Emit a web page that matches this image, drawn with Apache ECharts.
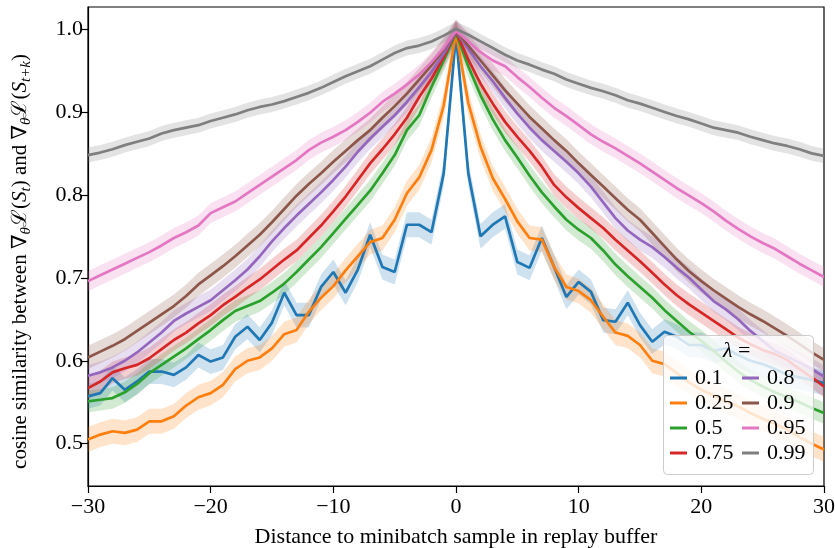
<!DOCTYPE html>
<html><head><meta charset="utf-8">
<script src="https://cdn.jsdelivr.net/npm/echarts@6/dist/echarts.min.js"></script>
<style>html,body{margin:0;padding:0;background:#fff}#c{width:835px;height:548px}</style>
</head><body><div id="c"></div>
<script>
// ---- data ----
const distances = [-30,-29,-28,-27,-26,-25,-24,-23,-22,-21,-20,-19,-18,-17,-16,-15,-14,-13,-12,-11,-10,-9,-8,-7,-6,-5,-4,-3,-2,-1,0,1,2,3,4,5,6,7,8,9,10,11,12,13,14,15,16,17,18,19,20,21,22,23,24,25,26,27,28,29,30];
const lambdaNames = ['0.1','0.25','0.5','0.75','0.8','0.9','0.95','0.99'];

const sim_0_1 = [0.557,0.561,0.579,0.565,0.575,0.587,0.587,0.583,0.592,0.607,0.599,0.604,0.629,0.641,0.625,0.646,0.682,0.655,0.655,0.689,0.707,0.682,0.710,0.752,0.713,0.707,0.764,0.764,0.755,0.826,
  0.993,
  0.826,0.750,0.764,0.774,0.719,0.712,0.748,0.713,0.677,0.695,0.683,0.649,0.647,0.670,0.643,0.623,0.635,0.629,0.619,0.619,0.612,0.615,0.607,0.600,0.596,0.590,0.583,0.580,0.577,0.573];
const sim_0_25 = [0.505,0.511,0.515,0.513,0.517,0.527,0.527,0.533,0.546,0.556,0.561,0.571,0.590,0.600,0.604,0.615,0.632,0.637,0.659,0.676,0.690,0.709,0.726,0.743,0.748,0.770,0.802,0.821,0.854,0.908,
  0.995,
  0.911,0.858,0.820,0.795,0.768,0.748,0.746,0.713,0.689,0.684,0.673,0.653,0.634,0.630,0.619,0.600,0.596,0.585,0.574,0.565,0.558,0.551,0.545,0.537,0.530,0.524,0.517,0.508,0.500,0.493];
const sim_0_5 = [0.551,0.553,0.555,0.562,0.572,0.585,0.595,0.605,0.615,0.626,0.637,0.649,0.660,0.666,0.672,0.682,0.693,0.707,0.722,0.737,0.754,0.771,0.788,0.805,0.826,0.848,0.878,0.896,0.930,0.962,
  0.995,
  0.955,0.920,0.891,0.866,0.845,0.823,0.803,0.786,0.770,0.758,0.748,0.733,0.716,0.702,0.689,0.676,0.661,0.648,0.635,0.624,0.612,0.599,0.587,0.577,0.569,0.562,0.556,0.550,0.543,0.537];
const sim_0_75 = [0.567,0.575,0.586,0.591,0.595,0.603,0.614,0.625,0.634,0.645,0.655,0.667,0.677,0.688,0.698,0.710,0.722,0.733,0.748,0.763,0.780,0.798,0.818,0.838,0.855,0.873,0.893,0.918,0.940,0.966,
  0.997,
  0.963,0.934,0.910,0.888,0.870,0.853,0.834,0.812,0.797,0.784,0.772,0.760,0.746,0.733,0.720,0.706,0.692,0.679,0.668,0.658,0.648,0.638,0.628,0.620,0.613,0.608,0.601,0.590,0.580,0.569];
const sim_0_8 = [0.582,0.586,0.592,0.600,0.610,0.622,0.634,0.648,0.657,0.665,0.673,0.685,0.697,0.710,0.726,0.744,0.760,0.775,0.789,0.803,0.818,0.834,0.852,0.868,0.882,0.896,0.912,0.930,0.948,0.970,
  0.997,
  0.976,0.955,0.937,0.917,0.898,0.881,0.866,0.853,0.840,0.826,0.810,0.791,0.772,0.757,0.746,0.737,0.725,0.712,0.700,0.686,0.672,0.662,0.650,0.636,0.624,0.612,0.605,0.598,0.590,0.581];
const sim_0_9 = [0.604,0.611,0.618,0.626,0.636,0.646,0.656,0.666,0.678,0.692,0.703,0.714,0.726,0.739,0.752,0.767,0.783,0.799,0.813,0.826,0.840,0.853,0.866,0.878,0.893,0.907,0.922,0.939,0.956,0.975,
  0.998,
  0.980,0.962,0.944,0.926,0.910,0.894,0.880,0.866,0.853,0.838,0.824,0.810,0.796,0.782,0.770,0.754,0.738,0.722,0.708,0.696,0.685,0.675,0.665,0.656,0.648,0.639,0.630,0.620,0.610,0.601];
const sim_0_95 = [0.696,0.703,0.710,0.717,0.724,0.731,0.739,0.748,0.755,0.763,0.778,0.785,0.792,0.802,0.812,0.822,0.832,0.842,0.854,0.863,0.870,0.878,0.888,0.899,0.912,0.922,0.933,0.945,0.960,0.977,
  0.998,
  0.985,0.972,0.962,0.955,0.942,0.930,0.917,0.905,0.895,0.884,0.873,0.864,0.856,0.847,0.838,0.828,0.818,0.808,0.799,0.790,0.780,0.769,0.759,0.750,0.742,0.735,0.726,0.717,0.709,0.701];
const sim_0_99 = [0.848,0.851,0.855,0.860,0.864,0.868,0.874,0.878,0.881,0.884,0.889,0.893,0.897,0.902,0.906,0.909,0.913,0.918,0.923,0.929,0.936,0.943,0.949,0.955,0.963,0.971,0.977,0.980,0.985,0.992,
  1.000,
  0.993,0.985,0.977,0.969,0.962,0.957,0.951,0.946,0.939,0.934,0.929,0.925,0.920,0.914,0.910,0.905,0.900,0.895,0.891,0.886,0.881,0.878,0.875,0.870,0.866,0.862,0.859,0.855,0.850,0.847];
// half-width of the shaded confidence band for each lambda
const bandHalfWidth = [0.015,0.015,0.013,0.013,0.013,0.014,0.012,0.009];

const xTickValues = [-30,-20,-10,0,10,20,30];
const xTickLabels = ['\u221230','\u221220','\u221210','0','10','20','30'];
const yTickValues = [0.5,0.6,0.7,0.8,0.9,1.0];
const yTickLabels = ['0.5','0.6','0.7','0.8','0.9','1.0'];

// ---- styling ----
const allSeries = [sim_0_1, sim_0_25, sim_0_5, sim_0_75, sim_0_8, sim_0_9, sim_0_95, sim_0_99];
const colors = ['#1f77b4','#ff7f0e','#2ca02c','#d62728','#9467bd','#8c564b','#e377c2','#7f7f7f'];
const FONT = "'Liberation Serif','Times New Roman','DejaVu Serif',serif";

const chart = echarts.init(document.getElementById('c'), null, {renderer:'canvas'});

const series = [];
allSeries.forEach((vals, k) => {
  const hw = bandHalfWidth[k];
  series.push({
    type: 'custom', name: lambdaNames[k] + ' band', silent: true, clip: true, z: 1,
    data: distances.map((d, i) => [d, vals[i] - hw, vals[i] + hw]),
    encode: {x: 0, y: [1, 2]},
    renderItem: function (params, api) {
      if (params.dataIndex !== 0) return null;
      const pts = [];
      for (let i = 0; i < distances.length; i++) pts.push(api.coord([distances[i], vals[i] + hw]));
      for (let i = distances.length - 1; i >= 0; i--) pts.push(api.coord([distances[i], vals[i] - hw]));
      return {type: 'polygon', shape: {points: pts}, style: {fill: colors[k], opacity: 0.22}};
    }
  });
});
allSeries.forEach((vals, k) => {
  series.push({
    type: 'line', name: lambdaNames[k], color: colors[k],
    data: distances.map((d, i) => [d, vals[i]]),
    showSymbol: false, symbol: 'none', z: 3,
    lineStyle: {width: 2.7, color: colors[k]},
    emphasis: {disabled: true}
  });
});

const legendCommon = {
  orient: 'vertical', icon: 'rect', itemWidth: 17, itemHeight: 3, itemGap: 3, padding: 0,
  selectedMode: false, z: 10,
  textStyle: {fontFamily: FONT, fontSize: 22, color: '#000', lineHeight: 22, padding: [0, 0, 0, 3]}
};

const option = {
  animation: false,
  backgroundColor: '#fff',
  grid: {left: 88, right: 11, top: 7, bottom: 62, show: true, borderColor: '#000', borderWidth: 1.2,
         backgroundColor: 'transparent', containLabel: false, outerBoundsMode: 'none'},
  xAxis: {
    type: 'value', min: -30, max: 30, interval: 10,
    name: 'Distance to minibatch sample in replay buffer',
    nameLocation: 'middle', nameGap: 40,
    nameTextStyle: {fontFamily: FONT, fontSize: 22, color: '#000'},
    axisLine: {show: true, onZero: false, lineStyle: {color: '#000', width: 1.2}},
    axisTick: {show: true, length: 7, lineStyle: {color: '#000', width: 1.2}, customValues: xTickValues},
    axisLabel: {customValues: xTickValues, margin: 10, fontFamily: FONT, fontSize: 22, color: '#000',
      formatter: v => { const i = xTickValues.findIndex(t => Math.abs(t - v) < 1e-9); return i >= 0 ? xTickLabels[i] : ''; }},
    splitLine: {show: false}
  },
  yAxis: {
    type: 'value', min: 0.449, max: 1.0265,
    name: '{n|cosine similarity between \u2207}{s|\u03b8}{n|\u2112(}{i|S}{s|t}{n|) and \u2207}{s|\u03b8}{n|\u2112(}{i|S}{s|t+k}{n|)}',
    nameLocation: 'middle', nameRotate: 90, nameGap: 54,
    nameTextStyle: {
      fontFamily: FONT, fontSize: 21, color: '#000', padding: [0, 30, 0, 0],
      rich: {
        n: {fontFamily: FONT, fontSize: 21, lineHeight: 28, color: '#000'},
        i: {fontFamily: FONT, fontSize: 21, lineHeight: 28, fontStyle: 'italic', color: '#000'},
        s: {fontFamily: FONT, fontSize: 15, lineHeight: 14, fontStyle: 'italic', verticalAlign: 'bottom', color: '#000'}
      }
    },
    axisLine: {show: true, onZero: false, lineStyle: {color: '#000', width: 1.2}},
    axisTick: {show: true, length: 7, lineStyle: {color: '#000', width: 1.2}, customValues: yTickValues},
    axisLabel: {customValues: yTickValues, margin: 5, fontFamily: FONT, fontSize: 22, color: '#000',
      formatter: v => { const i = yTickValues.findIndex(t => Math.abs(t - v) < 1e-9); return i >= 0 ? yTickLabels[i] : ''; }},
    splitLine: {show: false}
  },
  legend: [
    Object.assign({}, legendCommon, {data: lambdaNames.slice(0, 4), left: 670, top: 367}),
    Object.assign({}, legendCommon, {data: lambdaNames.slice(4), left: 742, top: 367})
  ],
  graphic: [
    {type: 'rect', left: 663, top: 335, z: 8, silent: true,
     shape: {width: 150, height: 139, r: 4},
     style: {fill: 'rgba(255,255,255,0.8)', stroke: '#cccccc', lineWidth: 1}},
    {type: 'text', z: 9, silent: true,
     left: 723, top: 340,
     style: {text: '{i|\u03bb} =', font: "22px " + FONT, fill: '#000',
       rich: {i: {fontStyle: 'italic', fontFamily: FONT, fontSize: 22, fill: '#000'}}}}
  ],
  series: series
};
chart.setOption(option);
</script>
</body></html>
